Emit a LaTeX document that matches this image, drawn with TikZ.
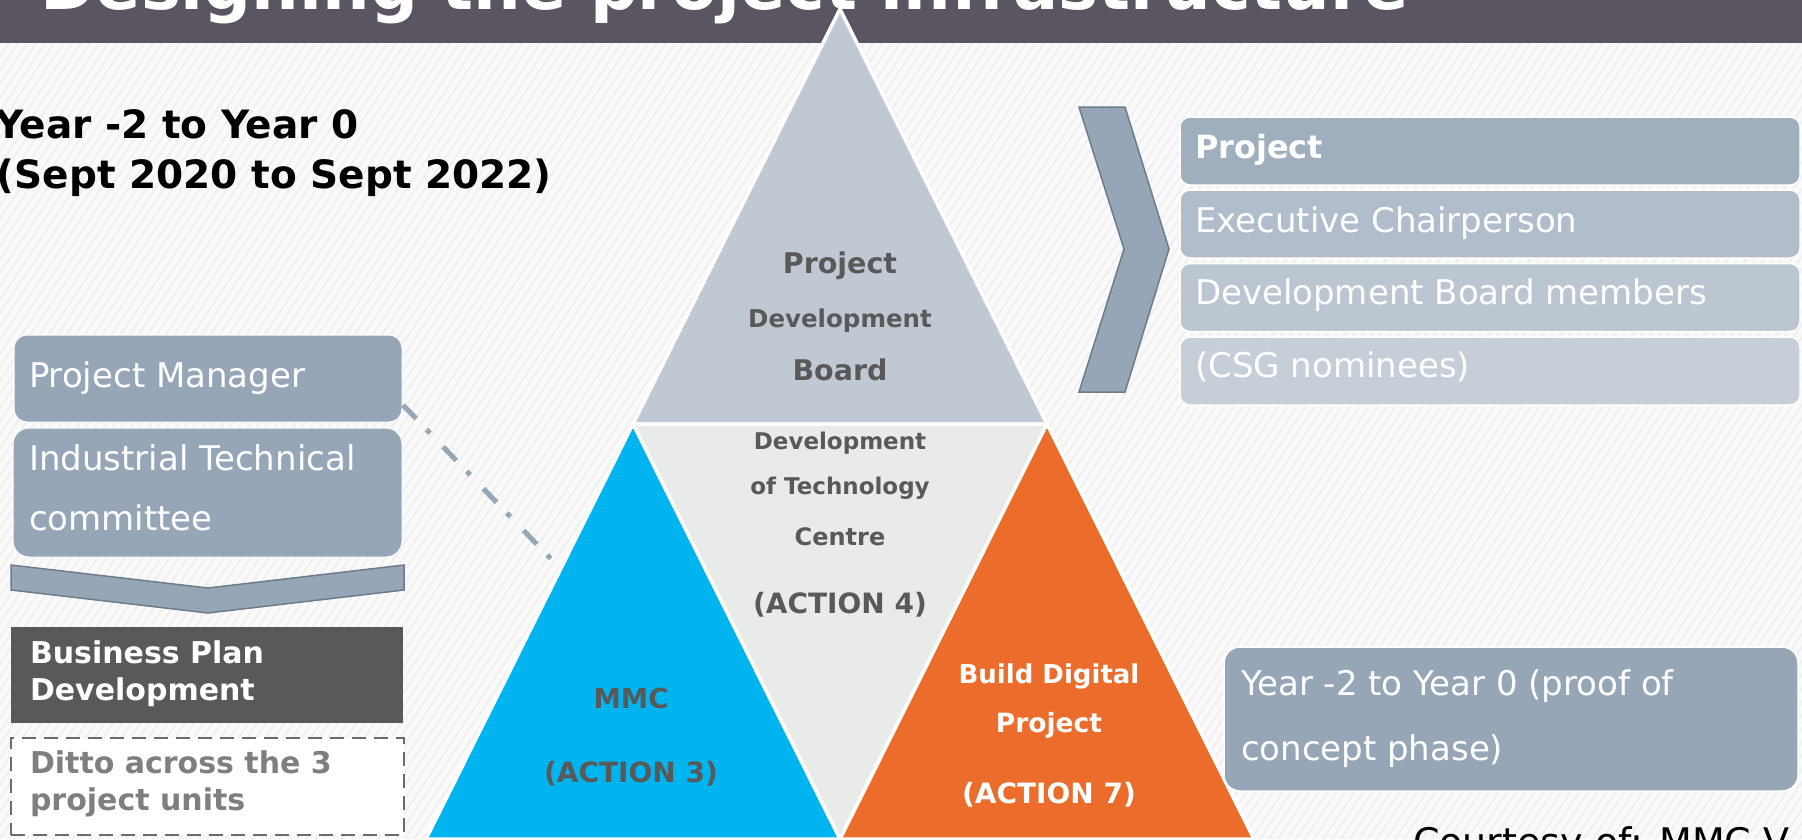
\documentclass[tikz,border=0pt]{standalone}
\usepackage{fontspec}
\setmainfont{DejaVu Sans}
\usetikzlibrary{calc}
\definecolor{bgc}{HTML}{FAFAFA}
\definecolor{texc}{HTML}{F0F0F0}
\definecolor{titlebar}{HTML}{5B5561}
\definecolor{toptri}{HTML}{C0C8D4}
\definecolor{midtri}{HTML}{E9EBE8}
\definecolor{bluetri}{HTML}{00B5EF}
\definecolor{orangetri}{HTML}{EC6C2C}
\definecolor{tgray}{HTML}{595959}
\definecolor{slate}{HTML}{97A6B7}
\definecolor{slateline}{HTML}{6E7B8A}
\definecolor{stackA}{HTML}{A0AFBE}
\definecolor{stackB}{HTML}{B1BDCA}
\definecolor{stackC}{HTML}{BCC6D1}
\definecolor{stackD}{HTML}{C6CED8}
\definecolor{bpfill}{HTML}{595959}
\definecolor{dashline}{HTML}{6B6B6B}
\definecolor{dittotxt}{HTML}{7F7F7F}
\newcommand{\myfs}[1]{\fontsize{#1}{#1}\selectfont}
\begin{document}
\begin{tikzpicture}[x=1pt,y=-1pt,
  txt/.style={inner sep=0pt, outer sep=0pt, anchor=base west},
  ctxt/.style={inner sep=0pt, outer sep=0pt, anchor=base},
  tri/.style={draw=white, line width=3.5pt, line join=miter},
  boxnode/.style={rectangle, inner sep=0pt, outer sep=0pt},
  wtxt/.style={txt, text=white, font=\myfs{34}},
  tritxt/.style={ctxt, text=tgray, font=\bfseries\myfs{#1}},
  tritxt/.default=28,
  chev/.style={fill=slate, draw=slateline, line width=1.5pt, line join=miter}
]
\useasboundingbox (0,0) rectangle (1802,839);
\clip (0,0) rectangle (1802,839);
% background with faint texture
\fill[bgc] (0,0) rectangle (1802,839);
\foreach \i in {-70,...,230} {
  \draw[texc, line width=2pt] (\i*9,839) -- ++(560,-839);
}
% title bar
\fill[titlebar] (0,0) rectangle (1802,42.5);
\node[txt, text=white, font=\bfseries\myfs{67}] (title) at (40,9) {Designing the project infrastructure};
% heading
\node[txt, font=\bfseries\myfs{39}] (head1) at (-5,138) {Year -2 to Year 0};
\node[txt, font=\bfseries\myfs{39}] (head2) at (-3,188) {(Sept 2020 to Sept 2022)};
% triangles
\filldraw[tri, fill=toptri] (840,9) -- (633,424) -- (1047,424) -- cycle;
\filldraw[tri, fill=midtri] (633,424) -- (1047,424) -- (840,839) -- cycle;
\filldraw[tri, fill=bluetri] (633,424) -- (426,839) -- (840,839) -- cycle;
\filldraw[tri, fill=orangetri] (1047,424) -- (840,839) -- (1254,839) -- cycle;
% triangle texts
\node[tritxt=28.5] (t1) at (840,273) {Project};
\node[tritxt=24.5] (t2) at (840,327) {Development};
\node[tritxt=28.5] (t3) at (840,380) {Board};
\node[tritxt=23] (m1) at (840,449) {Development};
\node[tritxt=23] (m2) at (840,494) {of Technology};
\node[tritxt=24] (m3) at (840,545) {Centre};
\node[tritxt=28] (m4) at (840,613) {(ACTION 4)};
\node[tritxt=27.5] (b1) at (631,708) {MMC};
\node[tritxt=28] (b2) at (631,782) {(ACTION 3)};
\node[ctxt, text=white, font=\bfseries\myfs{26}] (o1) at (1049,683) {Build Digital};
\node[ctxt, text=white, font=\bfseries\myfs{26.5}] (o2) at (1049,732) {Project};
\node[ctxt, text=white, font=\bfseries\myfs{28}] (o3) at (1049,803) {(ACTION 7)};
% right chevron
\filldraw[chev] (1079,107) -- (1125,107) -- (1169,249) -- (1125,392) -- (1079,392) -- (1124,249) -- cycle;
% right stack
\node[boxnode, fill=stackA, draw=white, line width=1.5pt, rounded corners=10pt, minimum width=620pt, minimum height=68pt] (sA) at (1490,151) {};
\node[boxnode, fill=stackB, draw=white, line width=1.5pt, rounded corners=10pt, minimum width=620pt, minimum height=68pt] (sB) at (1490,224) {};
\node[boxnode, fill=stackC, draw=white, line width=1.5pt, rounded corners=10pt, minimum width=620pt, minimum height=68pt] (sC) at (1490,297.5) {};
\node[boxnode, fill=stackD, draw=white, line width=1.5pt, rounded corners=10pt, minimum width=620pt, minimum height=68pt] (sD) at (1490,371) {};
\node[txt, text=white, font=\bfseries\myfs{32}] (sAt) at (1195,158) {Project};
\node[wtxt] (sBt) at (1195,232) {Executive Chairperson};
\node[wtxt] (sCt) at (1195,304) {Development Board members};
\node[wtxt] (sDt) at (1195,377) {(CSG nominees)};
% left stack
\node[boxnode, fill=slate, draw=white, line width=1pt, rounded corners=13pt, minimum width=388pt, minimum height=87pt] (pm) at (208,378.5) {};
\node[wtxt] (pmt) at (29,387) {Project Manager};
\node[boxnode, fill=slate, draw=white, line width=1pt, rounded corners=16pt, minimum width=389pt, minimum height=129pt] (itc) at (207.5,492.5) {};
\node[wtxt] (itc1) at (29,470) {Industrial Technical};
\node[wtxt] (itc2) at (29,530) {committee};
\filldraw[chev] (11,565) -- (208,588) -- (404,565) -- (404,590) -- (208,613) -- (11,590) -- cycle;
\node[boxnode, fill=bpfill, minimum width=392pt, minimum height=96pt] (bp) at (207,675) {};
\node[txt, text=white, font=\bfseries\myfs{30}] (bp1) at (30,663) {Business Plan};
\node[txt, text=white, font=\bfseries\myfs{30}] (bp2) at (30,700) {Development};
\node[boxnode, fill=white, draw=dashline, line width=2pt, dash pattern=on 14pt off 8pt, minimum width=393pt, minimum height=97pt] (ditto) at (207.5,786.5) {};
\node[txt, text=dittotxt, font=\bfseries\myfs{30}] (dt1) at (30,773) {Ditto across the 3};
\node[txt, text=dittotxt, font=\bfseries\myfs{30}] (dt2) at (30,810) {project units};
% dash-dot connector
\coordinate (dend) at (552,560);
\draw[slate, line width=5pt, dash pattern=on 19pt off 15pt on 5pt off 19pt] ($(pm.south east)+(1,-17)$) -- (dend);
% bottom-right box
\node[boxnode, fill=slate, draw=white, line width=1.5pt, rounded corners=16pt, minimum width=574pt, minimum height=144pt] (yr) at (1511,719) {};
\node[wtxt] (yr1) at (1241,695) {Year -2 to Year 0 (proof of};
\node[wtxt] (yr2) at (1241,760) {concept phase)};
% courtesy
\node[txt, text=black, font=\myfs{38}] (court) at (1413,855) {Courtesy of: MMC V};
\end{tikzpicture}
\end{document}
